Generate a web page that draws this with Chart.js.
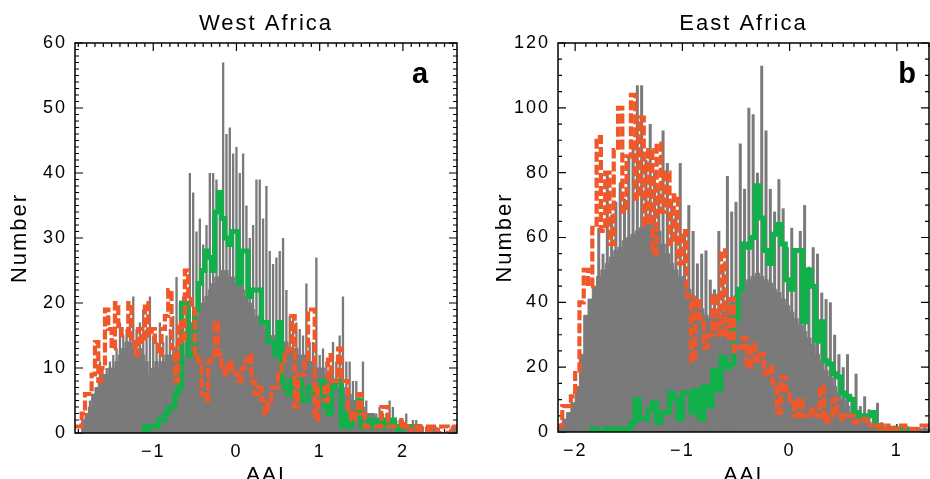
<!DOCTYPE html>
<html>
<head>
<meta charset="utf-8">
<title>AAI histograms, West and East Africa</title>
<script src="https://cdn.jsdelivr.net/npm/chart.js@4/dist/chart.umd.min.js"></script>
<style>
  html, body { margin: 0; padding: 0; background: #fff; overflow: hidden; }
  canvas { position: absolute; top: 0; }
  #west { left: 0; }
  #east { left: 470px; }
</style>
</head>
<body>
<canvas id="west" width="470" height="495"></canvas>
<canvas id="east" width="460" height="495"></canvas>
<script>
// histogram bins are 0.04 AAI wide
const binWidth = 0.04;
const westStart = -1.94;
const eastStart = -2.16;

const westTicksX = [-1, 0, 1, 2];
const westTicksY = [0, 10, 20, 30, 40, 50, 60];
const eastTicksX = [-2, -1, 0, 1];
const eastTicksY = [0, 20, 40, 60, 80, 100, 120];

// grey: lower count of each bin, and the spike top inside that bin
const westGrayBase = [
  0, 0, 0, 2, 3, 4, 6, 7, 8, 9,
  9, 10, 10, 11, 12, 13, 14, 14, 13, 12,
  13, 12, 11, 9, 10, 11, 10, 11, 12, 12,
  12, 13, 12, 12, 14, 15, 17, 18, 19, 20,
  21, 22, 23, 24, 24, 25, 25, 24, 24, 23,
  23, 22, 21, 20, 19, 18, 18, 17, 16, 15,
  15, 15, 14, 14, 14, 13, 13, 13, 12, 12,
  12, 11, 11, 10, 10, 10, 9, 9, 8, 8,
  7, 7, 6, 6, 5, 5, 4, 4, 3, 3,
  3, 2, 2, 2, 2, 2, 1, 1, 1, 1,
  1, 1, 1, 0, 1, 0, 0, 0, 1, 0,
  0, 0, 0, 0, 1
];
const westGraySpike = [
  0, 0, 0, 3, 5, 5, 7, 11, 9, 10,
  11, 12, 13, 17, 15, 16, 17, 21, 16, 17,
  19, 16, 21, 15, 14, 17, 14, 15, 16, 18,
  24, 20, 21, 19, 40, 37, 31, 33, 29, 32,
  40, 40, 39, 36, 57, 46, 47, 43, 44, 40,
  43, 35, 30, 32, 39, 39, 33, 38, 28, 26,
  27, 28, 30, 22, 18, 18, 17, 16, 15, 23,
  14, 14, 27, 12, 13, 11, 10, 14, 11, 15,
  21, 11, 11, 8, 8, 6, 11, 5, 3, 2,
  3, 4, 3, 3, 5, 4, 2, 2, 2, 3,
  1, 2, 2, 1, 1, 1, 0, 0, 1, 0,
  0, 0, 0, 0, 1
];
const westRed = [
  1, 1, 1, 3, 6, 6, 9, 14, 8, 10,
  19, 16, 13, 20, 16, 15, 15, 20, 14, 12,
  16, 14, 20, 15, 16, 14, 12, 16, 18, 22,
  13, 8, 17, 14, 25, 21, 19, 12, 11, 6,
  5, 11, 12, 17, 12, 10, 9, 11, 10, 9,
  8, 10, 11, 12, 8, 6, 7, 5, 3, 5,
  7, 7, 9, 11, 12, 13, 18, 4, 9, 9,
  11, 19, 19, 2, 7, 7, 5, 12, 8, 8,
  13, 8, 8, 3, 2, 3, 6, 3, 1, 1,
  1, 1, 1, 4, 4, 1, 1, 1, 1, 2,
  1, 0, 1, 1, 0, 1, 1, 0, 1, 1,
  0, 1, 1, 0, 1
];
const westGreen = [
  null, null, null, null, null, null, null, null, null, null,
  null, null, null, null, null, null, null, null, null, null,
  1, 1, 0, 1, 1, 1, 2, 2, 3, 4,
  4, 6, 7, 20, 20, 12, 12, 19, 23, 25,
  28, 27, 25, 34, 37, 33, 30, 29, 31, 31,
  23, 28, 28, 21, 22, 22, 22, 17, 17, 14,
  14, 12, 17, 8, 7, 6, 8, 8, 8, 5,
  5, 7, 7, 6, 6, 8, 4, 3, 7, 8,
  8, 1, 3, 1, 2, 3, 5, 1, 1, 2,
  1, 2, 1, 2, 1, 1, 2, 1, 0, 1,
  1, 1, 1, 1, 1, null, null, null, null, null,
  null, null, null, null, null
];

const eastGrayBase = [
  1, 2, 4, 6, 9, 14, 24, 36, 41, 45,
  48, 50, 52, 54, 56, 57, 59, 60, 61, 62,
  63, 64, 64, 63, 62, 58, 55, 52, 50, 48,
  46, 44, 42, 40, 38, 36, 35, 35, 36, 37,
  38, 40, 42, 44, 46, 47, 48, 49, 48, 47,
  46, 44, 43, 41, 39, 37, 35, 33, 31, 29,
  27, 24, 22, 19, 17, 14, 12, 10, 8, 6,
  5, 4, 3, 3, 2, 2, 1, 1, 1, 1,
  1, 1, 0, 1, 0, 1, 1
];
const eastGraySpike = [
  2, 3, 5, 8, 10, 14, 24, 36, 45, 63,
  55, 80, 67, 71, 77, 72, 85, 89, 107, 107,
  84, 95, 80, 75, 93, 83, 71, 68, 83, 62,
  70, 62, 52, 55, 56, 47, 44, 62, 52, 79,
  68, 71, 89, 75, 100, 98, 80, 113, 93, 75,
  68, 78, 69, 57, 63, 56, 62, 70, 51, 57,
  55, 43, 41, 40, 30, 24, 20, 24, 11, 18,
  8, 11, 7, 6, 9, 3, 2, 2, 2, 1,
  2, 1, 1, 1, 1, 2, 1
];
const eastRed = [
  1, 2, 8, 8, 11, 19, 40, 50, 45, 63,
  91, 62, 80, 58, 87, 100, 68, 85, 104, 72,
  97, 64, 87, 55, 89, 68, 80, 58, 73, 52,
  62, 42, 22, 41, 35, 26, 30, 42, 30, 56,
  29, 41, 25, 26, 29, 20, 27, 22, 24, 18,
  20, 15, 6, 17, 13, 9, 5, 10, 5, 5,
  7, 5, 14, 3, 5, 10, 6, 4, 5, 5,
  3, 4, 4, 2, 2, 1, 2, 1, 2, 1,
  1, 2, 1, 1, 1, 2, 2
];
const eastGreen = [
  null, null, null, null, null, null, null, null, 0, 1,
  0, 0, 1, 0, 1, 0, 1, 1, 3, 10,
  4, 4, 7, 9, 3, 6, 6, 12, 10, 4,
  12, 12, 6, 13, 4, 14, 8, 19, 13, 23,
  20, 21, 35, 44, 58, 57, 60, 76, 66, 56,
  52, 61, 64, 58, 47, 44, 56, 56, 34, 50,
  45, 28, 34, 22, 21, 18, 17, 12, 11, 10,
  6, 5, 5, 5, 6, 2, 1, 1, 1, 0,
  1, 1, 1, null, null, null, null
];

const GRAY = '#7a7a7a';
const RED = '#f0582a';
const GREEN = '#12b04b';

Chart.defaults.font.family = "'Liberation Sans', Arial, sans-serif";
Chart.defaults.color = '#000';

// left bin edges, plus a closing point so the last step has a width
function edges(values, start) {
  const pts = values.map((v, i) => ({ x: start + binWidth * i, y: v }));
  pts.push({ x: start + binWidth * values.length, y: values[values.length - 1] });
  return pts;
}

function centres(values, start) {
  return values.map((v, i) => ({ x: start + binWidth * (i + 0.5), y: v }));
}

function minus(v) {
  return String(v).replace('-', '\u2212');
}

// IDL style box: inward ticks on all four sides, frame, panel letter
const framePlugin = {
  id: 'frame',
  beforeDraw(chart) {
    chart.ctx.letterSpacing = '2px';
  },
  beforeDatasetsDraw(chart, args, o) {
    const { ctx, chartArea: a, scales: { x, y } } = chart;
    ctx.save();
    ctx.strokeStyle = '#000';
    ctx.lineWidth = 1.2;
    ctx.beginPath();
    for (let k = Math.ceil(x.min / o.xMinor - 1e-6); k * o.xMinor <= x.max + 1e-9; k++) {
      const px = x.getPixelForValue(k * o.xMinor);
      const len = k % o.xMajor === 0 ? 8 : 4;
      ctx.moveTo(px, a.top);
      ctx.lineTo(px, a.top + len);
      ctx.moveTo(px, a.bottom);
      ctx.lineTo(px, a.bottom - len);
    }
    for (let k = 0; k * o.yMinor <= y.max; k++) {
      const py = y.getPixelForValue(k * o.yMinor);
      const len = k % o.yMajor === 0 ? 8 : 4;
      ctx.moveTo(a.left, py);
      ctx.lineTo(a.left + len, py);
      ctx.moveTo(a.right, py);
      ctx.lineTo(a.right - len, py);
    }
    ctx.stroke();
    ctx.restore();
  },
  afterDatasetsDraw(chart, args, o) {
    const { ctx, chartArea: a } = chart;
    ctx.save();
    ctx.strokeStyle = '#000';
    ctx.lineWidth = 1.5;
    ctx.strokeRect(a.left, a.top, a.right - a.left, a.bottom - a.top);
    ctx.fillStyle = '#000';
    ctx.font = "bold 29px 'Liberation Sans', Arial, sans-serif";
    ctx.letterSpacing = '0px';
    ctx.textAlign = 'center';
    ctx.fillText(o.letter, o.letterX, 83);
    ctx.restore();
  }
};

function panel(id, p) {
  new Chart(document.getElementById(id), {
    type: 'line',
    data: {
      datasets: [
        {
          data: edges(p.red, p.start), order: 0, stepped: 'after',
          borderColor: RED, borderWidth: 4.2, borderDash: [10, 3],
          pointRadius: 0, fill: false
        },
        {
          data: edges(p.green, p.start), order: 1, stepped: 'after',
          borderColor: GREEN, borderWidth: 5, pointRadius: 0, fill: false
        },
        {
          type: 'bar', data: centres(p.spike, p.start), order: 2,
          backgroundColor: GRAY, barPercentage: 0.7, categoryPercentage: 1
        },
        {
          data: edges(p.base, p.start), order: 3, stepped: 'after',
          borderColor: GRAY, borderWidth: 1, backgroundColor: GRAY,
          pointRadius: 0, fill: 'origin'
        }
      ]
    },
    options: {
      responsive: false,
      animation: false,
      events: [],
      layout: { padding: { left: 0, right: p.padRight, top: 0, bottom: 0 } },
      plugins: {
        legend: { display: false },
        tooltip: { enabled: false },
        title: {
          display: true, text: p.title, fullSize: false,
          font: { size: 22, weight: 'normal', lineHeight: 1 },
          padding: { top: 13, bottom: 8 }
        },
        frame: p.frame
      },
      scales: {
        x: {
          type: 'linear', min: p.xMin, max: p.xMax, offset: false,
          grid: { display: false, drawTicks: false },
          border: { display: false },
          afterBuildTicks: s => { s.ticks = p.xTicks.map(v => ({ value: v })); },
          afterFit: s => { s.height = p.axisHeight; },
          ticks: { padding: 8, autoSkip: false, maxRotation: 0, font: { size: 18 }, callback: v => minus(v) },
          title: {
            display: true, text: 'AAI',
            font: { size: 21, lineHeight: 1 }, padding: { top: 0, bottom: 9.5 }
          }
        },
        y: {
          min: 0, max: p.yMax,
          grid: { display: false, drawTicks: false },
          border: { display: false },
          afterBuildTicks: s => { s.ticks = p.yTicks.map(v => ({ value: v })); },
          afterFit: s => { s.width = p.axisWidth; },
          ticks: { padding: 8, font: { size: 18 } },
          title: {
            display: true, text: 'Number',
            font: { size: 22, lineHeight: 1 }, padding: { top: p.titlePad, bottom: 0 }
          }
        }
      }
    },
    plugins: [framePlugin]
  });
}

panel('west', {
  title: 'West Africa', start: westStart, xMin: -1.94, xMax: 2.65, yMax: 60,
  xTicks: westTicksX, yTicks: westTicksY,
  base: westGrayBase, spike: westGraySpike, red: westRed, green: westGreen,
  axisWidth: 75, axisHeight: 62, padRight: 13, titlePad: 9,
  frame: { xMinor: 0.1, xMajor: 10, yMinor: 1, yMajor: 10, letter: 'a', letterX: 420 }
});

panel('east', {
  title: 'East Africa', start: eastStart, xMin: -2.16, xMax: 1.30, yMax: 120,
  xTicks: eastTicksX, yTicks: eastTicksY,
  base: eastGrayBase, spike: eastGraySpike, red: eastRed, green: eastGreen,
  axisWidth: 88, axisHeight: 63, padRight: 1, titlePad: 24,
  frame: { xMinor: 0.1, xMajor: 10, yMinor: 5, yMajor: 4, letter: 'b', letterX: 437 }
});
</script>
</body>
</html>
